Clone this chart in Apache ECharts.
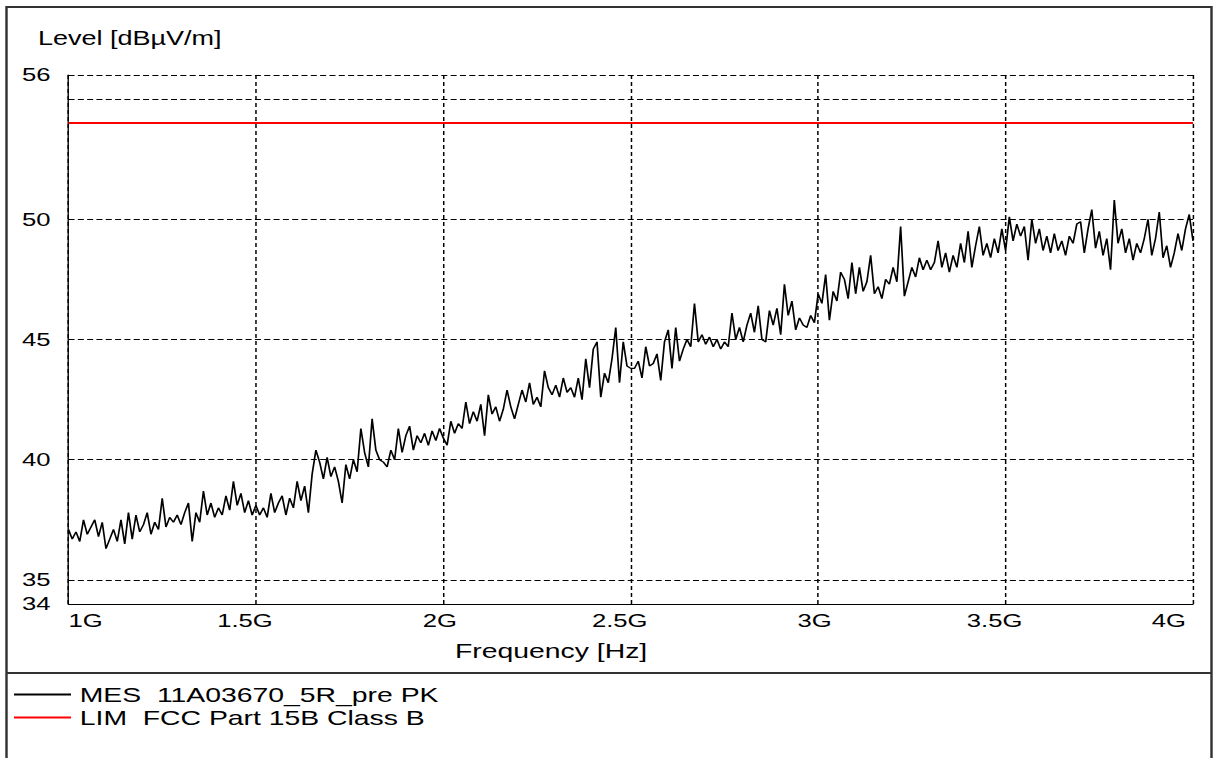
<!DOCTYPE html>
<html>
<head>
<meta charset="utf-8">
<title>Level vs Frequency</title>
<script src="https://cdn.jsdelivr.net/npm/echarts@6/dist/echarts.min.js"></script>
<style>
  html, body { margin: 0; padding: 0; background: #fff; overflow: hidden; }
  #chart { height: 758px; transform-origin: 0 0; background: #fff; }
</style>
</head>
<body>
<div id="chart"></div>
<script>
// Sweep: 1 GHz to 4 GHz, 10 MHz steps
const sweepStartGHz = 1.0;
const sweepStepGHz = 0.01;

// Measured peak level [dBµV/m], one value per sweep step
const mesLevels = [
  37.1, 36.7, 37.0, 36.6, 37.5, 36.9, 37.2, 37.5, 36.8, 37.4,
  36.3, 36.7, 37.1, 36.6, 37.5, 36.5, 37.8, 36.7, 37.7, 37.0,
  37.3, 37.8, 36.9, 37.4, 37.1, 38.4, 37.2, 37.6, 37.4, 37.7,
  37.3, 37.8, 38.2, 36.6, 37.8, 37.4, 38.7, 37.7, 38.2, 37.6,
  38.0, 37.7, 38.5, 37.9, 39.1, 38.1, 38.6, 37.8, 38.3, 37.7,
  38.1,
  37.7, 38.0, 37.6, 38.6, 37.8, 38.2, 38.5, 37.7, 38.4, 38.0,
  39.1, 38.3, 38.9, 37.8, 39.4, 40.4, 39.9, 39.2, 40.1, 39.3,
  39.7, 39.1, 38.2, 39.8, 39.2, 40.0, 39.5, 41.3, 40.3, 39.7,
  41.7, 40.4, 40.0, 39.9, 39.7, 40.4, 40.0, 41.3, 40.3, 41.0,
  41.4, 40.4, 41.0, 40.7, 41.1, 40.6, 41.2, 40.8, 41.3, 40.9,
  40.6, 41.6, 41.1, 41.5, 41.3, 42.4, 41.5, 42.0, 41.6, 42.3,
  41.0, 42.7, 41.9, 42.2, 41.6, 42.1, 42.9, 42.2, 41.7, 42.3,
  42.9, 42.4, 43.2, 42.3, 42.6, 42.2, 43.7, 43.0, 42.7, 43.1,
  42.6, 43.4, 42.8, 43.0, 42.6, 43.4, 42.5, 44.2, 43.0, 44.6,
  44.9, 42.6, 43.6, 43.2, 44.2, 45.5, 43.2, 44.9, 43.9, 43.8,
  43.8, 44.1, 43.4, 44.7, 43.9, 44.0, 44.4, 43.3, 44.9, 45.4,
  43.8, 45.5, 44.1, 44.6, 45.0, 44.7, 46.5, 44.9, 45.2, 44.8,
  45.1, 44.7, 45.0, 44.6, 44.9, 44.7, 46.1, 45.0, 45.5, 44.9,
  45.6, 46.1, 45.3, 46.4, 45.0, 44.9, 46.2, 45.6, 46.3, 45.2,
  47.3, 46.0, 46.6, 45.4, 45.9, 45.6, 45.5, 46.0, 45.7, 46.9,
  46.5, 47.7, 45.8, 47.0, 46.6, 47.8, 47.5, 46.7, 48.2, 46.9,
  48.0, 47.0, 47.4, 48.5, 46.9, 47.2, 46.7, 47.5, 47.3, 48.0,
  47.4, 49.7, 46.8, 47.4, 48.0, 47.6, 48.4, 47.9, 48.3, 47.9,
  48.2, 49.1, 48.0, 48.6, 47.8, 48.5, 48.0, 49.0, 48.2, 49.5,
  48.0, 48.9, 49.7, 48.5, 49.0, 48.4, 49.2, 48.6, 49.6, 48.7,
  50.1, 49.1, 49.8, 49.3, 49.7, 48.3, 50.0, 49.0, 49.6, 48.7,
  49.3, 48.6, 49.4, 48.7, 49.1, 48.5, 49.3, 49.0, 49.8, 49.9,
  48.6, 49.6, 50.4, 48.8, 49.5, 48.5, 49.2, 47.9, 50.8, 49.0,
  49.6, 48.6, 49.2, 48.3, 49.0, 48.6, 49.2, 50.0, 48.5, 49.2,
  50.3, 48.4, 48.9, 48.0, 48.6, 49.4, 48.7, 49.6, 50.2, 49.1
];

// FCC Part 15B Class B limit line
const limFreqsGHz = [1.0, 4.0];
const limLevels = [54, 54];

// Axis ticks
const freqTicksGHz = [1, 1.5, 2, 2.5, 3, 3.5, 4];
const levelLabels = [34, 35, 40, 45, 50, 56];
const levelGridLines = [35, 40, 45, 50, 55, 56];

const mesName = 'MES  11A03670_5R_pre PK';
const limName = 'LIM  FCC Part 15B Class B';

// The plot is laid out on a narrower canvas and stretched horizontally,
// which gives the wide lettering of the measurement software.
const PAGE_W = 1213;
const CHART_W = 898;
const SX = PAGE_W / CHART_W;
const px = x => x / SX;           // page x -> chart x
const FONT = '"Liberation Sans", Arial, sans-serif';

const el = document.getElementById('chart');
el.style.width = CHART_W + 'px';
el.style.transform = 'scaleX(' + SX + ')';

const mesPoints = mesLevels.map((v, i) => [+(sweepStartGHz + i * sweepStepGHz).toFixed(2), v]);
const limPoints = limFreqsGHz.map((f, i) => [f, limLevels[i]]);

const xMin = freqTicksGHz[0];
const xMax = freqTicksGHz[freqTicksGHz.length - 1];

const chart = echarts.init(el, null, { renderer: 'svg' });
chart.setOption({
  animation: false,
  backgroundColor: '#fff',
  grid: {
    left: px(68.5),
    right: CHART_W - px(1193),
    top: 75,
    bottom: 758 - 604
  },
  xAxis: {
    type: 'value',
    min: xMin,
    max: xMax,
    interval: freqTicksGHz[1] - freqTicksGHz[0],
    axisLine: { show: true, lineStyle: { color: '#000', width: 1 } },
    axisTick: { show: false },
    splitLine: { show: true, lineStyle: { color: '#000', width: 1.1, type: [4, 3] } },
    axisLabel: {
      margin: 7,
      alignMinLabel: 'left',
      alignMaxLabel: 'right',
      formatter: function (v) {
        const t = v + 'G';
        return (v % 1 !== 0) ? '{h|' + t + '}' : '{i|' + t + '}';
      },
      rich: {
        h: { fontSize: 19, fontFamily: FONT, color: '#000', padding: [0, px(22), 0, 0] },
        i: { fontSize: 19, fontFamily: FONT, color: '#000', padding: [0, px(7), 0, 0] }
      }
    }
  },
  yAxis: {
    type: 'value',
    min: 34,
    max: 56,
    interval: 1,
    axisLine: { show: true, lineStyle: { color: '#000', width: 1 } },
    axisTick: { show: false },
    splitLine: { show: false },
    axisLabel: {
      margin: px(18),
      fontSize: 19,
      fontFamily: FONT,
      color: '#000',
      formatter: v => (levelLabels.indexOf(v) >= 0 ? String(v) : '')
    }
  },
  legend: {
    orient: 'vertical',
    left: px(14),
    top: 684,
    padding: 0,
    itemWidth: px(57),
    itemHeight: 2,
    itemGap: 2,
    icon: 'rect',
    selectedMode: false,
    data: [mesName, limName],
    textStyle: { fontSize: 21, fontFamily: FONT, color: '#000', padding: [0, 0, 0, px(2)] }
  },
  graphic: [
    {
      type: 'polyline',
      silent: true,
      shape: { points: [[px(6.5), 790], [px(6.5), 7], [px(1211.5), 7], [px(1211.5), 790]] },
      style: { stroke: '#333', lineWidth: 1.8, fill: null }
    },
    {
      type: 'line',
      silent: true,
      shape: { x1: px(6.5), y1: 673, x2: px(1211.5), y2: 673 },
      style: { stroke: '#333', lineWidth: 1.8 }
    },
    {
      type: 'text',
      silent: true,
      x: px(38),
      y: 38,
      style: { text: 'Level [dBµV/m]', fontSize: 20, fontFamily: FONT, fill: '#000', verticalAlign: 'middle' }
    },
    {
      type: 'text',
      silent: true,
      x: px(455),
      y: 650,
      style: { text: 'Frequency [Hz]', fontSize: 21, fontFamily: FONT, fill: '#000', verticalAlign: 'middle' }
    }
  ],
  series: [
    {
      name: 'grid',
      type: 'line',
      data: [],
      z: 1,
      silent: true,
      markLine: {
        silent: true,
        symbol: ['none', 'none'],
        label: { show: false },
        lineStyle: { color: '#000', width: 1, type: [4.45, 2.45] },
        data: levelGridLines.map(v => ({ yAxis: v }))
      }
    },
    {
      name: mesName,
      type: 'line',
      data: mesPoints,
      symbol: 'none',
      showSymbol: false,
      z: 3,
      silent: true,
      lineStyle: { color: '#000', width: 1.25 },
      itemStyle: { color: '#000' }
    },
    {
      name: limName,
      type: 'line',
      data: limPoints,
      symbol: 'none',
      showSymbol: false,
      z: 4,
      silent: true,
      lineStyle: { color: '#ff0000', width: 2 },
      itemStyle: { color: '#ff0000' }
    }
  ]
});
</script>
</body>
</html>
